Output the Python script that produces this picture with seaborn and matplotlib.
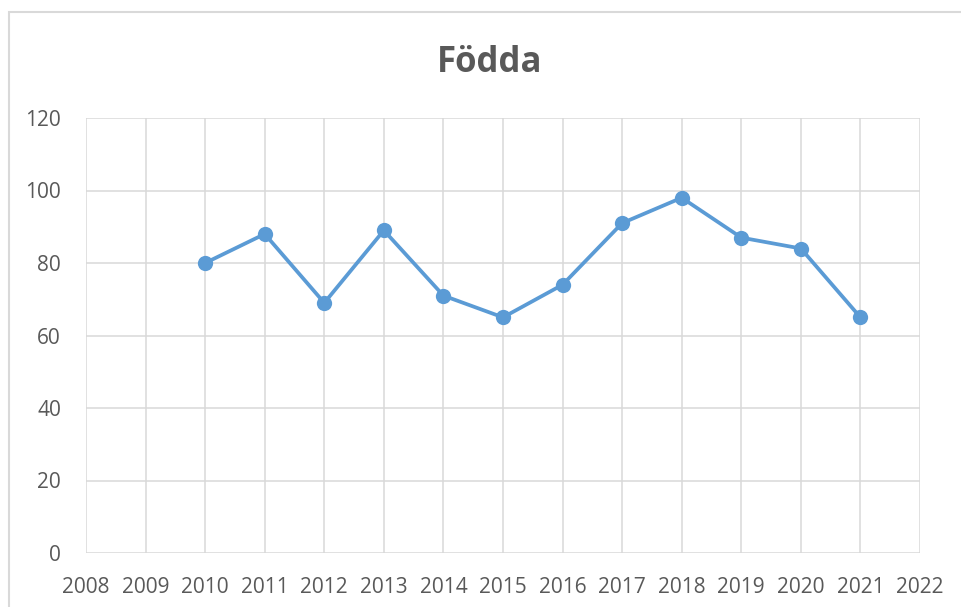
import pandas as pd
import matplotlib.pyplot as plt
import matplotlib.patches as patches
import seaborn as sns

# Datos
anios = [2010, 2011, 2012, 2013, 2014, 2015, 2016, 2017, 2018, 2019, 2020, 2021]
fodda = [80, 88, 69, 89, 71, 65, 74, 91, 98, 87, 84, 65]
xticks = list(range(2008, 2023))
yticks = [0, 20, 40, 60, 80, 100, 120]

df = pd.DataFrame({'År': anios, 'Födda': fodda})

sns.set_style('white')
plt.rcParams['font.family'] = ['Open Sans', 'DejaVu Sans']

gris_texto = '#595959'
gris_grid = '#d9d9d9'

fig = plt.figure(figsize=(9.61, 6.07), dpi=100)
ax = fig.add_axes([86 / 961, 1 - 553 / 607, (920 - 86) / 961, (553 - 118) / 607])

sns.lineplot(data=df, x='År', y='Födda', ax=ax, color='#5b9bd5', linewidth=2.7,
             marker='o', markersize=11, markeredgewidth=0)

ax.set_xlim(2008, 2022)
ax.set_ylim(0, 120)
ax.set_xticks(xticks)
ax.set_yticks(yticks)
ax.grid(True, color=gris_grid, linewidth=1.1)
ax.set_axisbelow(True)
for lado in ax.spines.values():
    lado.set_visible(False)
ax.tick_params(axis='both', length=0, labelsize=15, labelcolor=gris_texto)
ax.tick_params(axis='x', pad=17)
ax.tick_params(axis='y', pad=18)
ax.set_xlabel('')
ax.set_ylabel('')

fig.text(490 / 961, 1 - 63 / 607, 'Födda', ha='center', va='center',
         fontsize=25, fontweight='bold', color=gris_texto)

# Marco del area del grafico (cortado a la derecha y abajo)
marco = patches.Rectangle((9 / 961, -0.1), 1.2, (607 - 12) / 607 + 0.1,
                          transform=fig.transFigure, fill=False,
                          edgecolor=gris_grid, linewidth=1.5)
fig.patches.append(marco)

fig.savefig('out.png', dpi=100)
